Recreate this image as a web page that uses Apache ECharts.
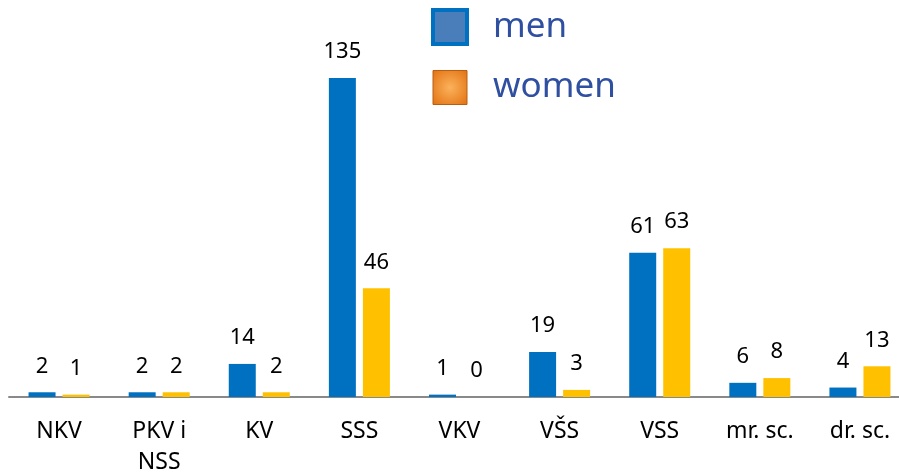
<!DOCTYPE html>
<html>
<head>
<meta charset="utf-8">
<script src="https://cdn.jsdelivr.net/npm/echarts@6/dist/echarts.min.js"></script>
<style>
  html, body { margin: 0; padding: 0; background: #fff; }
  #chart { width: 899px; height: 472px; }
</style>
</head>
<body>
<div id="chart"></div>
<script>
const categories = ['NKV', 'PKV i\nNSS', 'KV', 'SSS', 'VKV', 'VŠS', 'VSS', 'mr. sc.', 'dr. sc.']
const men = [2, 2, 14, 135, 1, 19, 61, 6, 4]
const women = [1, 2, 2, 46, 0, 3, 63, 8, 13]

const chart = echarts.init(document.getElementById('chart'))

const labelStyle = {
    show: true,
    position: 'top',
    distance: 15,
    color: '#000',
    fontSize: 22,
    fontFamily: 'Noto Sans'
}

chart.setOption({
    animation: false,
    legend: {
        orient: 'vertical',
        left: 426,
        top: 3,
        itemWidth: 34,
        itemHeight: 34,
        itemGap: 24,
        icon: 'rect',
        textStyle: {
            color: '#2F4FA0',
            fontSize: 35,
            fontFamily: 'Noto Sans',
            padding: [0, 0, 0, 21]
        },
        data: [
            {
                name: 'men',
                itemStyle: { color: '#4A7EBB', borderColor: '#0070C0', borderWidth: 4 }
            },
            {
                name: 'women',
                itemStyle: {
                    color: {
                        type: 'radial', x: 0.5, y: 0.5, r: 0.7,
                        colorStops: [
                            { offset: 0, color: '#FBB25C' },
                            { offset: 1, color: '#E2700F' }
                        ]
                    },
                    borderColor: '#B85E10',
                    borderWidth: 1
                }
            }
        ]
    },
    grid: {
        left: 9,
        width: 901,
        top: 78,
        bottom: 75,
        containLabel: false,
        outerBoundsMode: 'none'
    },
    xAxis: {
        type: 'category',
        data: categories,
        axisTick: { show: false },
        axisLine: { lineStyle: { color: '#898989', width: 2 } },
        axisLabel: {
            color: '#000',
            fontSize: 23,
            fontFamily: 'Noto Sans',
            margin: 19,
            lineHeight: 31,
            interval: 0
        }
    },
    yAxis: {
        type: 'value',
        min: 0,
        max: 135,
        show: false,
        splitLine: { show: false }
    },
    series: [
        {
            name: 'men',
            type: 'bar',
            data: men,
            barWidth: 27,
            barGap: '26%',
            itemStyle: { color: '#0070C0' },
            label: labelStyle
        },
        {
            name: 'women',
            type: 'bar',
            data: women,
            barWidth: 27,
            itemStyle: { color: '#FFC000' },
            label: labelStyle
        }
    ]
})
</script>
</body>
</html>
